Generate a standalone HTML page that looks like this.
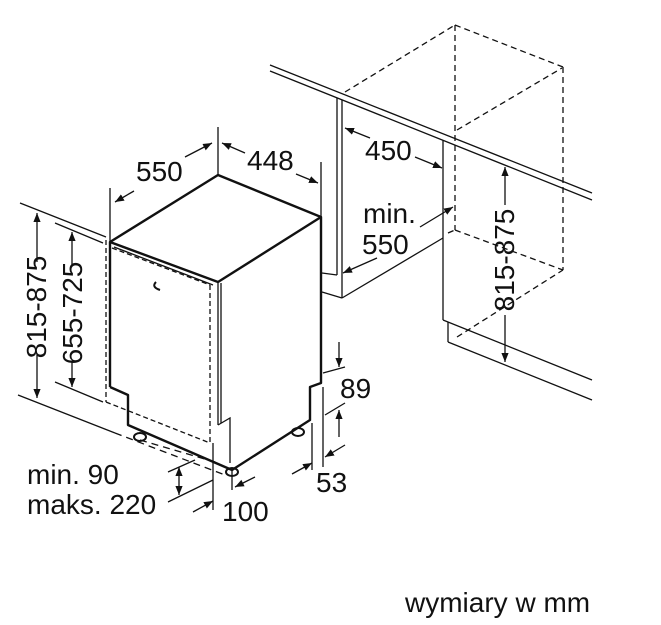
<!DOCTYPE html>
<html><head><meta charset="utf-8"><style>
html,body{margin:0;padding:0;background:#fff;}
svg{display:block;}
text{font-family:"Liberation Sans",Arial,sans-serif;fill:#111;}
</style></head><body>
<svg width="661" height="625" viewBox="0 0 661 625" xmlns="http://www.w3.org/2000/svg">
<defs>
<marker id="a" viewBox="0 0 10 10" refX="10" refY="5" markerWidth="9" markerHeight="9" orient="auto-start-reverse" markerUnits="userSpaceOnUse"><path d="M0,1 L10,5 L0,9 z" fill="#111"/></marker>
</defs>
<g stroke="#111" fill="none" stroke-width="1.3">
<line x1="270" y1="65" x2="592" y2="193"/>
<line x1="270" y1="71" x2="592" y2="200"/>
<line x1="337" y1="98" x2="337" y2="275"/>
<line x1="342" y1="100" x2="342" y2="298"/>
<line x1="322" y1="273" x2="337" y2="275"/>
<line x1="322" y1="292" x2="342" y2="298"/>
<line x1="342" y1="298" x2="443" y2="238"/>
<line x1="443" y1="140" x2="443" y2="320"/>
<line x1="443" y1="320" x2="592" y2="380"/>
<line x1="448" y1="322" x2="448" y2="342"/>
<line x1="448" y1="342" x2="592" y2="400"/>
<g stroke-dasharray="6,4">
<line x1="345" y1="92" x2="455" y2="25"/>
<line x1="455" y1="25" x2="563" y2="67"/>
<line x1="563" y1="67" x2="563" y2="270"/>
<line x1="455" y1="25" x2="455" y2="230"/>
<line x1="455" y1="230" x2="563" y2="270"/>
<line x1="457" y1="130" x2="562" y2="68"/>
<line x1="457" y1="337" x2="563" y2="270"/>
<line x1="448" y1="233" x2="455" y2="230"/>
</g>
<line x1="20" y1="203" x2="106" y2="237"/>
<line x1="55" y1="223" x2="103" y2="243"/>
<line x1="18" y1="395" x2="115" y2="433"/>
<line x1="55" y1="382" x2="103" y2="402"/>
<line x1="115" y1="433" x2="225" y2="475" stroke-dasharray="7,5"/>
<line x1="140" y1="440" x2="215" y2="462" stroke-dasharray="7,5"/>
<g stroke-dasharray="5,3">
<line x1="106" y1="240" x2="106" y2="402"/>
<line x1="112" y1="248" x2="210" y2="285"/>
<line x1="210" y1="285" x2="210" y2="443"/>
<line x1="106" y1="402" x2="210" y2="443"/>
</g>
</g>
<g stroke="#111" fill="none" stroke-width="2.4" stroke-linejoin="round">
<polyline points="110,387 110,242 218,175 321,217 321,383 310,387 310,420 232,470 128,425 128,395 110,387"/>
<line x1="110" y1="242" x2="218" y2="282"/>
<line x1="218" y1="282" x2="321" y2="217"/>
</g>
<g stroke="#111" fill="none" stroke-width="1.3">
<line x1="114" y1="247" x2="213" y2="285"/>
<line x1="218" y1="282" x2="218" y2="425"/>
<line x1="221" y1="283" x2="221" y2="423"/>
<polyline points="218,425 230,418 230,463"/>
<line x1="232" y1="470" x2="232" y2="490"/>
<path d="M156,282 q-5,5 4,8" stroke-width="2"/>
<ellipse cx="140" cy="437" rx="6" ry="4" stroke-width="2"/>
<ellipse cx="232" cy="472" rx="6" ry="4" stroke-width="2"/>
<ellipse cx="298" cy="432" rx="6" ry="4" stroke-width="2"/>
</g>
<g stroke="#111" fill="none" stroke-width="1.3">
<line x1="110" y1="188" x2="110" y2="242"/>
<line x1="218" y1="127" x2="218" y2="175"/>
<line x1="321" y1="162" x2="321" y2="217"/>
<polyline points="185,157 212,143" marker-end="url(#a)"/>
<polyline points="134,191 115,202" marker-end="url(#a)"/>
<polyline points="245,153 222,143" marker-end="url(#a)"/>
<polyline points="296,174 318,183" marker-end="url(#a)"/>
<line x1="37" y1="262" x2="37" y2="213" marker-end="url(#a)"/>
<line x1="37" y1="355" x2="37" y2="398" marker-end="url(#a)"/>
<line x1="72" y1="266" x2="72" y2="232" marker-end="url(#a)"/>
<line x1="72" y1="362" x2="72" y2="387" marker-end="url(#a)"/>
<line x1="370" y1="138" x2="345" y2="128" marker-end="url(#a)"/>
<line x1="415" y1="157" x2="442" y2="168" marker-end="url(#a)"/>
<line x1="420" y1="227" x2="453" y2="207" marker-end="url(#a)"/>
<line x1="377" y1="258" x2="343" y2="273" marker-end="url(#a)"/>
<line x1="505" y1="205" x2="505" y2="167" marker-end="url(#a)"/>
<line x1="505" y1="315" x2="505" y2="362" marker-end="url(#a)"/>
<line x1="339" y1="342" x2="339" y2="367" marker-end="url(#a)"/>
<line x1="323" y1="373" x2="345" y2="367"/>
<line x1="325" y1="415" x2="345" y2="403"/>
<line x1="339" y1="437" x2="339" y2="410" marker-end="url(#a)"/>
<line x1="312" y1="423" x2="312" y2="470"/>
<line x1="323" y1="387" x2="323" y2="467"/>
<line x1="292" y1="474" x2="312" y2="463" marker-end="url(#a)"/>
<line x1="345" y1="445" x2="325" y2="457" marker-end="url(#a)"/>
<line x1="213" y1="443" x2="213" y2="510"/>
<line x1="193" y1="512" x2="213" y2="501" marker-end="url(#a)"/>
<line x1="255" y1="477" x2="235" y2="487" marker-end="url(#a)"/>
<line x1="168" y1="472" x2="195" y2="460"/>
<line x1="168" y1="502" x2="213" y2="480"/>
<line x1="179" y1="480" x2="179" y2="467" marker-end="url(#a)"/>
<line x1="179" y1="480" x2="179" y2="495" marker-end="url(#a)"/>
</g>
<g font-size="28">
<text x="136" y="181">550</text>
<text x="247" y="170">448</text>
<text x="365" y="160">450</text>
<text x="363" y="223">min.</text>
<text x="362" y="254">550</text>
<text x="340" y="398">89</text>
<text x="316" y="492">53</text>
<text x="222" y="521">100</text>
<text x="27" y="484">min. 90</text>
<text x="27" y="514">maks. 220</text>
<text x="405" y="612">wymiary w mm</text>
<text transform="translate(46,307) rotate(-90)" text-anchor="middle">815-875</text>
<text transform="translate(82,313) rotate(-90)" text-anchor="middle">655-725</text>
<text transform="translate(514,260) rotate(-90)" text-anchor="middle">815-875</text>
</g>
</svg>
</body></html>
